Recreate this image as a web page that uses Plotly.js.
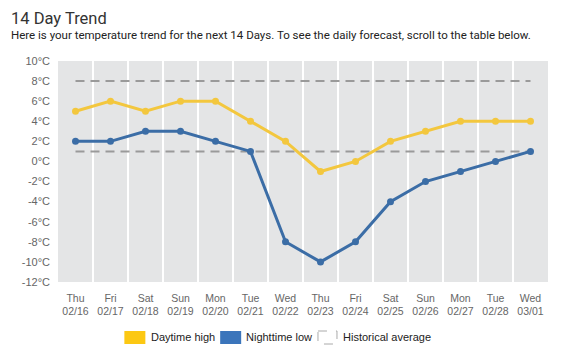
<!DOCTYPE html>
<html><head><meta charset="utf-8">
<script src="https://cdn.plot.ly/plotly-3.0.1.min.js"></script>
<style>body{margin:0;padding:0;background:#fff}#chart{width:564px;height:352px}</style>
</head><body><div id="chart"></div>
<script>
const days = ["Thu","Fri","Sat","Sun","Mon","Tue","Wed","Thu","Fri","Sat","Sun","Mon","Tue","Wed"];
const dates = ["02/16","02/17","02/18","02/19","02/20","02/21","02/22","02/23","02/24","02/25","02/26","02/27","02/28","03/01"];
const daytimeHigh = [5,6,5,6,6,4,2,-1,0,2,3,4,4,4];
const nighttimeLow = [2,2,3,3,2,1,-8,-10,-8,-4,-2,-1,0,1];
const historicalHigh = [8,8,8,8,8,8,8,8,8,8,8,8,8,8];
const historicalLow = [1,1,1,1,1,1,1,1,1,1,1,1,1,1];
const yTicks = [10,8,6,4,2,0,-2,-4,-6,-8,-10,-12];

const cats = dates.map((d,i)=>days[i]+"<br>"+d);
const traces = [
  {x:cats,y:historicalHigh,mode:"lines",line:{color:"#9a9a9a",width:2,dash:"9px,6px"},hoverinfo:"skip"},
  {x:cats,y:historicalLow,mode:"lines",line:{color:"#9a9a9a",width:2,dash:"9px,6px"},hoverinfo:"skip"},
  {x:cats,y:daytimeHigh,mode:"lines+markers",line:{color:"#f3c73e",width:3},marker:{color:"#f3c73e",size:7}},
  {x:cats,y:nighttimeLow,mode:"lines+markers",line:{color:"#3b6da6",width:3},marker:{color:"#3b6da6",size:7}}
];
const yf = {family:"Liberation Sans, Arial, sans-serif",size:11,color:"#666"};
const xf = {family:"Liberation Sans, Arial, sans-serif",size:10.5,color:"#666"};
const lf = {family:"Liberation Sans, Arial, sans-serif",size:11,color:"#222"};
const L = -57.5/491;
const layout = {
  width:564,height:352,
  margin:{l:57.5,r:15.5,t:60.5,b:70},
  paper_bgcolor:"#fff",plot_bgcolor:"#e4e5e6",
  showlegend:false,
  xaxis:{type:"category",range:[-0.5,13.5],tickson:"boundaries",showgrid:true,gridcolor:"#ffffff",gridwidth:2,
    ticks:"",tickangle:0,tickfont:xf,showline:false,zeroline:false,fixedrange:true,ticklabelstandoff:8},
  yaxis:{range:[-12,10],tickvals:yTicks,ticktext:yTicks.map(v=>v+"°C"),showgrid:false,zeroline:false,
    ticks:"",tickfont:yf,ticklabelstandoff:7,fixedrange:true},
  annotations:[
    {text:"14 Day Trend",xref:"paper",yref:"paper",x:L,y:1,yshift:31,xshift:8,xanchor:"left",yanchor:"bottom",showarrow:false,
      font:{family:"Roboto, sans-serif",size:16.5,color:"#333"}},
    {text:"Here is your temperature trend for the next 14 Days. To see the daily forecast, scroll to the table below.",
      xref:"paper",yref:"paper",x:L,y:1,xshift:8,yshift:17,xanchor:"left",yanchor:"bottom",showarrow:false,
      font:{family:"Roboto, sans-serif",size:11.5,color:"#222"}},
    {text:"Daytime high",xref:"paper",yref:"paper",x:(149-57.5)/491,y:0,yshift:-55,xanchor:"left",yanchor:"middle",showarrow:false,font:lf},
    {text:"Nighttime low",xref:"paper",yref:"paper",x:(244-57.5)/491,y:0,yshift:-55,xanchor:"left",yanchor:"middle",showarrow:false,font:lf},
    {text:"Historical average",xref:"paper",yref:"paper",x:(341-57.5)/491,y:0,yshift:-55,xanchor:"left",yanchor:"middle",showarrow:false,font:lf}
  ],
  shapes:[
    {type:"rect",xref:"paper",yref:"paper",xsizemode:"pixel",ysizemode:"pixel",xanchor:(124-57.5)/491,yanchor:0,x0:0,x1:21,y0:-49,y1:-62,fillcolor:"#fcc813",line:{width:0}},
    {type:"rect",xref:"paper",yref:"paper",xsizemode:"pixel",ysizemode:"pixel",xanchor:(220-57.5)/491,yanchor:0,x0:0,x1:21,y0:-49,y1:-62,fillcolor:"#3b75bb",line:{width:0}},
    {type:"rect",xref:"paper",yref:"paper",xsizemode:"pixel",ysizemode:"pixel",xanchor:(318-57.5)/491,yanchor:0,x0:0,x1:19,y0:-49,y1:-62,fillcolor:"rgba(0,0,0,0)",line:{width:1,color:"#aaa",dash:"dash"}}
  ]
};
Plotly.newPlot("chart",traces,layout,{displayModeBar:false,staticPlot:true});
</script></body></html>
